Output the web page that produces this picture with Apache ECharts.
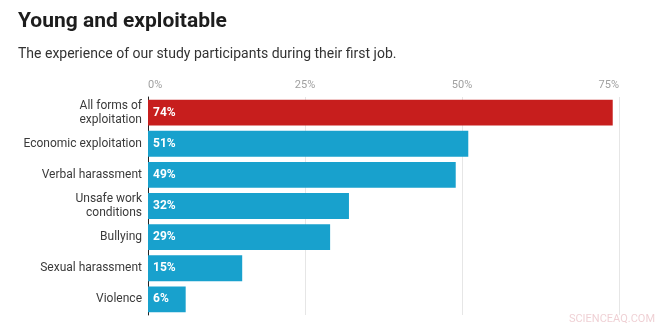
<!DOCTYPE html>
<html><head><meta charset="utf-8">
<script src="https://cdn.jsdelivr.net/npm/echarts@6/dist/echarts.min.js"></script>
<style>html,body{margin:0;padding:0;background:#fff}#c{width:671px;height:328px}</style>
</head><body><div id="c"></div>
<script>
const categories = ["All forms of\nexploitation","Economic exploitation","Verbal harassment","Unsafe work\nconditions","Bullying","Sexual harassment","Violence"];
const values = [74,51,49,32,29,15,6];
const barColors = ["#c71e1d","#18a1cd","#18a1cd","#18a1cd","#18a1cd","#18a1cd","#18a1cd"];
const tickValues = [0,25,50,75];

const chart = echarts.init(document.getElementById('c'), null, {renderer:'canvas'});
chart.setOption({
  animation:false,
  textStyle:{fontFamily:'Roboto'},
  title:[
    {text:'Young and exploitable',left:13,top:6,textStyle:{fontFamily:'Roboto',fontSize:21,fontWeight:'bold',color:'#1d1d1d'}},
    {text:'The experience of our study participants during their first job.',left:13,top:42,textStyle:{fontFamily:'Roboto',fontSize:14,fontWeight:'normal',color:'#333'}}
  ],
  grid:{left:148,right:52,top:97,bottom:13,containLabel:false},
  xAxis:{type:'value',min:0,max:75,interval:25,position:'top',
    axisLine:{show:false},axisTick:{show:false},
    splitLine:{show:true,lineStyle:{color:'#e6e6e6',width:1}},
    axisLabel:{color:'#a0a0a0',fontSize:11,margin:6,
      formatter:v=>tickValues.includes(v)?v+'%':'',
      alignMinLabel:'left',alignMaxLabel:'right'}
  },
  yAxis:{type:'category',inverse:true,data:categories,
    axisLine:{show:true,lineStyle:{color:'#222',width:1}},axisTick:{show:false},
    axisLabel:{color:'#3a3a3a',fontSize:12,margin:6,lineHeight:14,align:'right'}
  },
  series:[{type:'bar',barCategoryGap:'17%',
    data:values.map((v,i)=>({value:v,itemStyle:{color:barColors[i]}})),
    label:{show:true,position:'insideLeft',distance:5,color:'#fff',fontWeight:'bold',fontSize:12,formatter:p=>p.value+'%'}
  }],
  graphic:[{type:'text',right:16,bottom:3,style:{text:'SCIENCEAQ.COM',fill:'rgba(220,150,160,0.45)',font:'11px Roboto'}}]
});
</script></body></html>
